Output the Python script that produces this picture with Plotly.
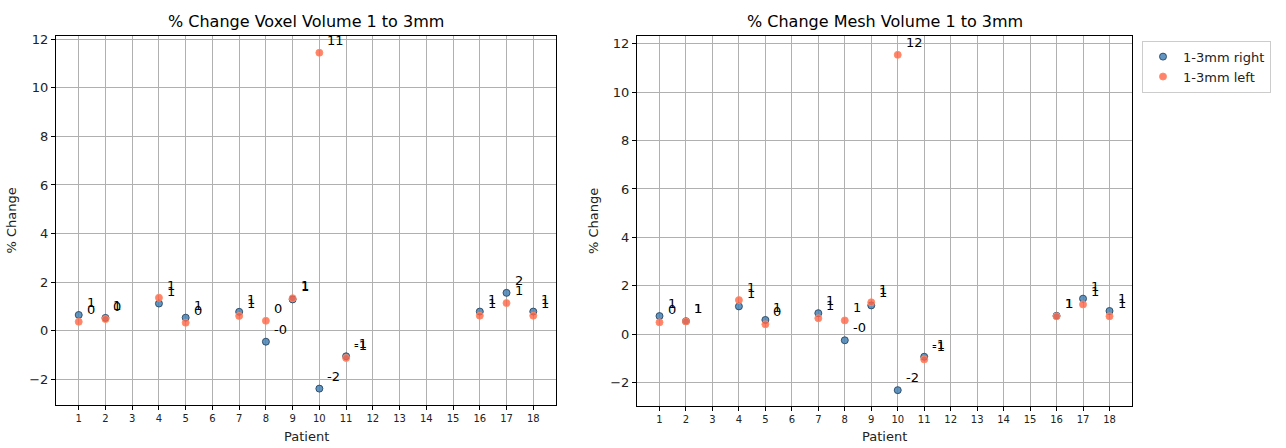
import plotly.graph_objects as go

W, H = 1286, 448

patients = list(range(1, 19))
tick_labels = [str(p) for p in patients]

# % change, voxel volume (None = patient not measured)
voxel_right = [0.65, 0.53, None, 1.12, 0.54, None, 0.78, -0.45, 1.29, -2.38, -1.05,
               None, None, None, None, 0.79, 1.56, 0.79]
voxel_left = [0.37, 0.48, None, 1.36, 0.33, None, 0.61, 0.41, 1.34, 11.44, -1.12,
              None, None, None, None, 0.62, 1.14, 0.62]

# % change, mesh volume
mesh_right = [0.75, 0.54, None, 1.15, 0.59, None, 0.87, -0.25, 1.19, -2.31, -0.93,
              None, None, None, None, 0.76, 1.47, 0.96]
mesh_left = [0.49, 0.53, None, 1.41, 0.41, None, 0.66, 0.57, 1.32, 11.54, -1.04,
             None, None, None, None, 0.74, 1.23, 0.74]

series_names = ["1-3mm right", "1-3mm left"]
titles = ["% Change Voxel Volume 1 to 3mm", "% Change Mesh Volume 1 to 3mm"]

FONT = "DejaVu Sans"
BLUE = "rgba(70,130,180,0.85)"
BLUE_EDGE = "rgba(40,70,100,0.9)"
RED = "rgba(255,99,71,0.8)"
RED_EDGE = "rgba(255,140,100,0.9)"

# panel pixel boxes: (left, right, top, bottom)
panels = [(56, 556, 32, 405), (637, 1132, 32, 406)]
yranges = [(-3.07, 12.14), (-2.98, 12.33)]

fig = go.Figure()

datasets = [(voxel_right, voxel_left), (mesh_right, mesh_left)]
for i, (right_vals, left_vals) in enumerate(datasets):
    xa = "x" if i == 0 else "x2"
    ya = "y" if i == 0 else "y2"
    for vals, name, col, edge in [(right_vals, series_names[0], BLUE, BLUE_EDGE),
                                  (left_vals, series_names[1], RED, RED_EDGE)]:
        fig.add_trace(go.Scatter(
            x=patients, y=vals, mode="markers", name=name,
            xaxis=xa, yaxis=ya, showlegend=(i == 1),
            marker=dict(size=7, color=col, line=dict(color=edge, width=1)),
        ))
        for p, v in zip(patients, vals):
            if v is None:
                continue
            fig.add_annotation(
                x=p, y=v, xref=xa, yref=ya, text=f"{round(v):.0f}" if round(v) != 0 or v >= 0 else "-0",
                showarrow=False, xanchor="left", yanchor="bottom",
                xshift=6, yshift=3,
                font=dict(family=FONT, size=13, color="black"),
            )

axis_common = dict(
    showgrid=True, gridcolor="#b0b0b0", gridwidth=1,
    showline=True, linecolor="black", linewidth=1, mirror=True,
    ticks="outside", ticklen=4, tickcolor="black",
    zeroline=False,
)

layout = dict(
    width=W, height=H, paper_bgcolor="white", plot_bgcolor="white",
    margin=dict(l=0, r=0, t=0, b=0),
    font=dict(family=FONT, color="#222"),
    legend=dict(
        x=1142 / W, y=1 - 37 / H, xanchor="left", yanchor="top",
        bordercolor="#cccccc", borderwidth=1,
        font=dict(family=FONT, size=13, color="#222"),
        itemsizing="trace",
    ),
)

for i, (l, r, t, b) in enumerate(panels):
    sfx = "" if i == 0 else "2"
    layout["xaxis" + sfx] = dict(
        axis_common, domain=[l / W, r / W], range=[0.15, 18.85],
        tickmode="array", tickvals=patients, ticktext=tick_labels,
        tickfont=dict(family=FONT, size=10, color="#222"),
        anchor="y" + sfx,
    )
    layout["yaxis" + sfx] = dict(
        axis_common, domain=[1 - b / H, 1 - t / H], range=list(yranges[i]),
        tickmode="array", tickvals=[-2, 0, 2, 4, 6, 8, 10, 12],
        ticktext=["−2", "0", "2", "4", "6", "8", "10", "12"],
        tickfont=dict(family=FONT, size=13, color="#222"),
        anchor="x" + sfx,
    )

fig.update_layout(**layout)

# panel titles and axis labels
for i, (l, r, t, b) in enumerate(panels):
    cx = (l + r) / 2 / W
    fig.add_annotation(x=cx, y=1 - 18 / H, xref="paper", yref="paper",
                       text=titles[i], showarrow=False, xanchor="center", yanchor="middle",
                       font=dict(family=FONT, size=16, color="black"))
    fig.add_annotation(x=cx, y=1 - 436 / H, xref="paper", yref="paper",
                       text="Patient", showarrow=False, xanchor="center", yanchor="middle",
                       font=dict(family=FONT, size=13, color="#222"))
    fig.add_annotation(x=(l - 44) / W, y=1 - (t + b) / 2 / H, xref="paper", yref="paper",
                       text="% Change", showarrow=False, textangle=-90,
                       xanchor="center", yanchor="middle",
                       font=dict(family=FONT, size=13, color="#222"))

fig.write_html("out.html")
